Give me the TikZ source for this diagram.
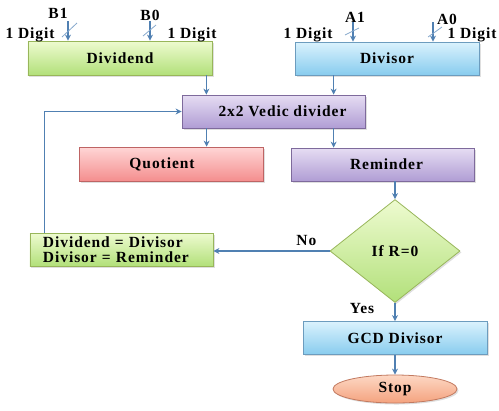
\documentclass[tikz,border=0pt]{standalone}
\usepackage{fontspec}
\setmainfont{Liberation Serif}[LetterSpace=6]
\usetikzlibrary{shapes.geometric,arrows.meta,shadows}
\definecolor{arrc}{HTML}{5080B2}
\definecolor{slashc}{HTML}{86A8CC}
\definecolor{gtop}{HTML}{EEFBD0}
\definecolor{gbot}{HTML}{B2E07A}
\definecolor{gdraw}{HTML}{98B65A}
\definecolor{btop}{HTML}{DAF2FD}
\definecolor{bbot}{HTML}{88CCEE}
\definecolor{bdraw}{HTML}{6C9CBE}
\definecolor{ptop}{HTML}{E6DDF3}
\definecolor{pbot}{HTML}{B09DD4}
\definecolor{pdraw}{HTML}{7E6A9C}
\definecolor{rtop}{HTML}{FFD6D6}
\definecolor{rbot}{HTML}{F48E8E}
\definecolor{rdraw}{HTML}{BE6464}
\definecolor{otop}{HTML}{FDD8C4}
\definecolor{obot}{HTML}{F4A27E}
\definecolor{odraw}{HTML}{C27A60}
\begin{document}
\begin{tikzpicture}[x=1bp,y=-1bp,
  font=\fontsize{15.5bp}{15bp}\selectfont\bfseries,
  shad/.style={drop shadow={shadow xshift=1.5bp,shadow yshift=-1.5bp,opacity=0.25}},
  box/.style={draw,line width=0.8bp,minimum width=184bp,minimum height=33bp,inner sep=0pt,shad},
  greenf/.style={top color=gtop,bottom color=gbot,draw=gdraw},
  bluef/.style={top color=btop,bottom color=bbot,draw=bdraw},
  purplef/.style={top color=ptop,bottom color=pbot,draw=pdraw},
  redf/.style={top color=rtop,bottom color=rbot,draw=rdraw},
  orangef/.style={top color=otop,bottom color=obot,draw=odraw},
  arr/.style={draw=arrc,line width=1.1bp,-{Stealth[length=6bp,width=6bp]}},
  slash/.style={draw=slashc,line width=0.8bp},
  lbl/.style={inner sep=0pt}]
\path[use as bounding box] (0,0) rectangle (499,410);

% boxes
\node[box,greenf,minimum height=34bp] (dividend) at (120,58) {Dividend};
\node[box,bluef] (divisor) at (387,58.5) {Divisor};
\node[box,purplef,minimum width=183bp] (vedic) at (273.5,111.5) {\hspace*{18bp}2x2 Vedic divider};
\node[box,redf,minimum height=34bp] (quotient) at (171,164) {Quotient\hspace*{18bp}};
\node[box,purplef,minimum width=183bp] (reminder) at (382.5,164.5) {Reminder\hspace*{-8bp}};
\node[box,greenf,minimum width=183bp,align=left,text width=157bp] (loopbox) at (121.5,249.5)
  {Dividend = Divisor\\Divisor = Reminder};
\node[diamond,greenf,line width=0.8bp,shad,minimum width=130bp,minimum height=103bp,aspect=1.26,inner sep=0pt] (cond) at (395,251) {If R=0};
\node[box,bluef] (gcd) at (395,338) {GCD Divisor};
\node[ellipse,orangef,line width=0.8bp,shad,minimum width=124bp,minimum height=28bp,inner sep=0pt] (stop) at (395,389) {Stop};

% input arrows
\coordinate (b1) at (68,21);
\coordinate (b0) at (150,21);
\coordinate (a1) at (353,22);
\coordinate (a0) at (433,22);
\draw[arr] (b1) -- (b1 |- dividend.north);
\draw[arr] (b0) -- (b0 |- dividend.north);
\draw[arr] (a1) -- (a1 |- divisor.north);
\draw[arr] (a0) -- (a0 |- divisor.north);
\draw[slash] (62,37) -- (77,23);
\draw[slash] (143,36) -- (156,25);
\draw[slash] (345,35) -- (359,28);
\draw[slash] (428,37) -- (442,27);

\node[lbl] (lb1) at (58,13) {B1};
\node[lbl] (lb0) at (150,15) {B0};
\node[lbl] (la1) at (355,17) {A1};
\node[lbl] (la0) at (447,19) {A0};
\node[lbl] (d1) at (30,35) {1 Digit};
\node[lbl] (d2) at (192,35) {1 Digit};
\node[lbl] (d3) at (308,35) {1 Digit};
\node[lbl] (d4) at (472,35) {1 Digit};

% connectors
\draw[arr] ([xshift=-6bp]dividend.south east) -- ([xshift=-6bp]dividend.south east |- vedic.north);
\draw[arr] ([xshift=39bp]divisor.south west) -- ([xshift=39bp]divisor.south west |- vedic.north);
\draw[arr] ([xshift=25bp]vedic.south west) -- ([xshift=25bp]vedic.south west |- quotient.north);
\draw[arr] ([xshift=152bp]vedic.south west) -- ([xshift=152bp]vedic.south west |- reminder.north);
\draw[arr] (cond.north |- reminder.south) -- (cond.north);
\draw[arr] (cond.west) -- (cond.west -| loopbox.east) node[lbl,pos=0.2,above=5bp] (no) {No};
\draw[arr] ([xshift=15bp]loopbox.north west) |- (vedic.west);
\draw[arr] (cond.south) -- (gcd.north);
\node[lbl] (yes) at (362,308) {Yes};
\draw[arr] (gcd.south) -- (stop.north);
\end{tikzpicture}
\end{document}
